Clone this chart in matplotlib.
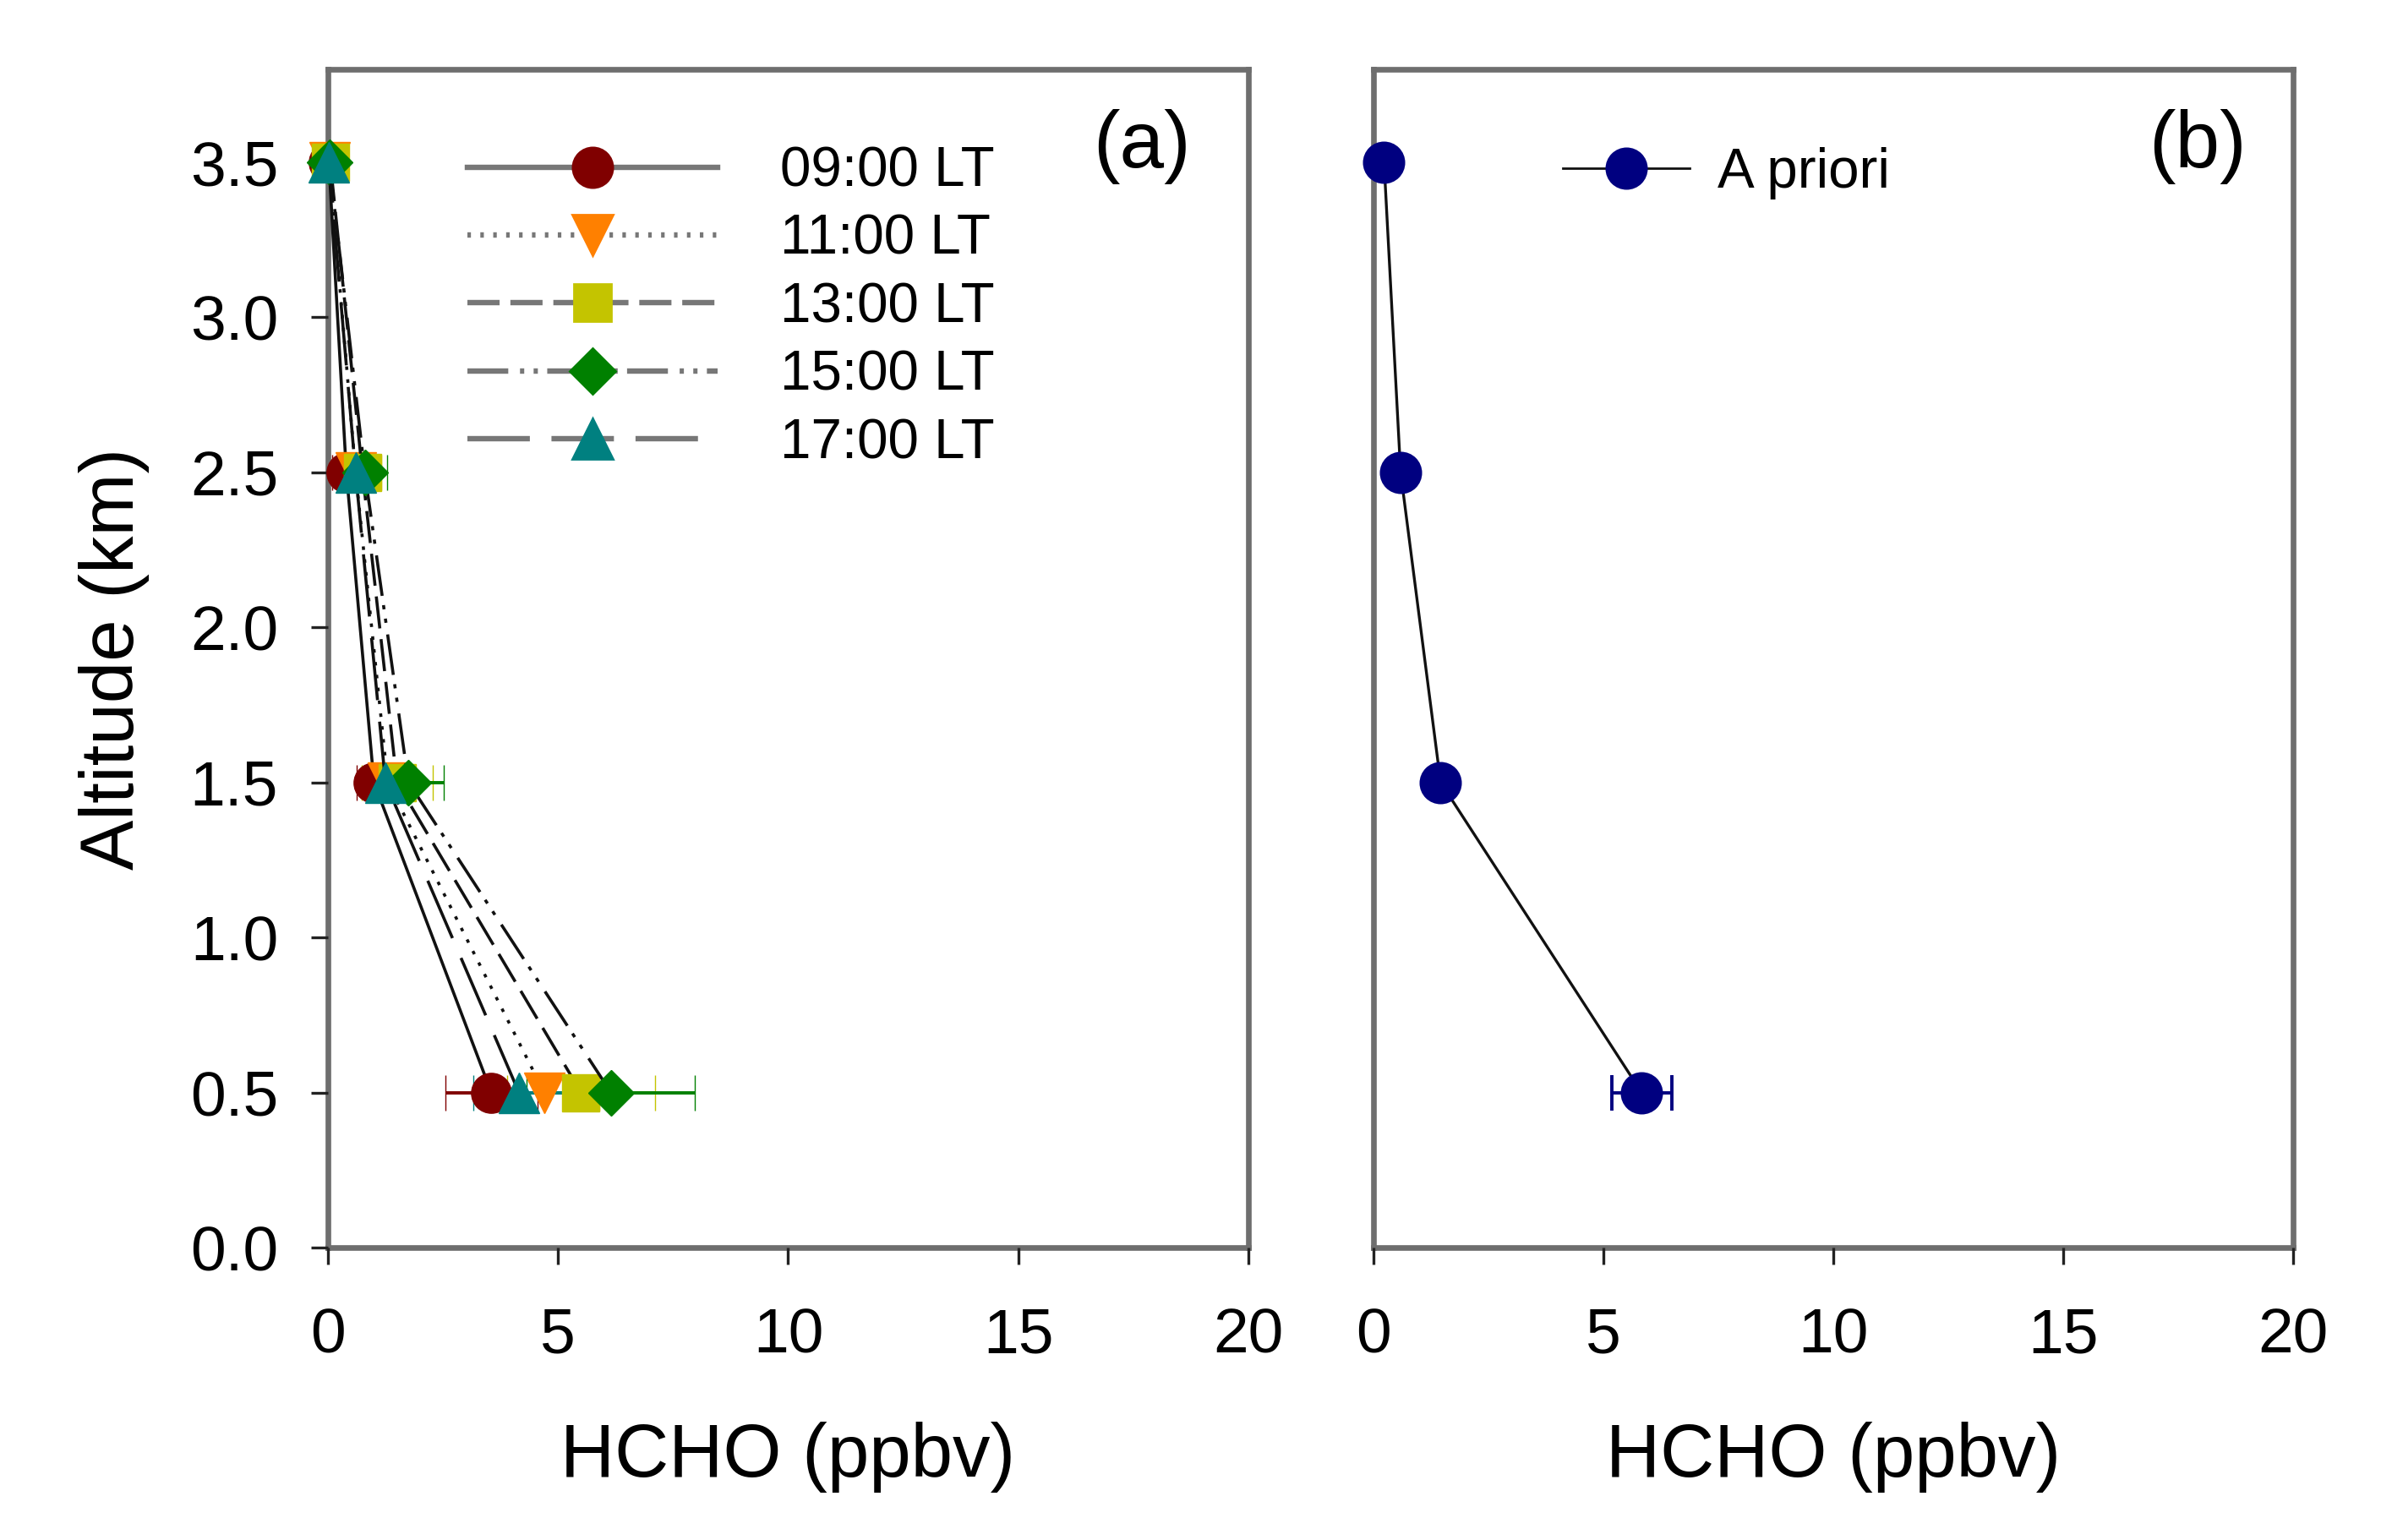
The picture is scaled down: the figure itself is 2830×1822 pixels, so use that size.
import matplotlib
matplotlib.use("Agg")
import matplotlib.pyplot as plt
from matplotlib.lines import Line2D

plt.rcParams['font.family'] = ['Liberation Sans', 'DejaVu Sans']
plt.rcParams['lines.scale_dashes'] = False

# ---------------- data ----------------
altitude = [0.5, 1.5, 2.5, 3.5]           # km
times = ["09:00 LT", "11:00 LT", "13:00 LT", "15:00 LT", "17:00 LT"]
hcho_09 = [3.55, 1.00, 0.40, 0.02]
err_09 = [1.00, 0.38, 0.30, 0.02]
hcho_11 = [4.70, 1.30, 0.60, 0.03]
err_11 = [1.20, 0.45, 0.30, 0.02]
hcho_13 = [5.50, 1.50, 0.75, 0.05]
err_13 = [1.60, 0.77, 0.40, 0.03]
hcho_15 = [6.15, 1.75, 0.80, 0.03]
err_15 = [1.83, 0.77, 0.48, 0.02]
hcho_17 = [4.15, 1.25, 0.60, 0.02]
err_17 = [1.00, 0.40, 0.30, 0.02]
apriori = [5.83, 1.46, 0.59, 0.23]
apriori_err = [0.65, 0.16, 0.07, 0.03]

xticks = [0, 5, 10, 15, 20]
yticks = [0.0, 0.5, 1.0, 1.5, 2.0, 2.5, 3.0, 3.5]

# ---------------- styles ----------------
series = [
    (hcho_09, err_09, '#800000', 'o', 17, '-'),
    (hcho_11, err_11, '#ff8000', 'v', 17, (0, (1.5, 4))),
    (hcho_13, err_13, '#c4c400', 's', 16, (0, (13.7, 4.6))),
    (hcho_15, err_15, '#008000', 'D', 14, (0, (17.4, 5, 1.8, 4, 1.8, 4))),
    (hcho_17, err_17, '#008080', '^', 17, (0, (26.6, 9.2))),
]

fig = plt.figure(figsize=(14.15, 9.11), dpi=200)
ax1 = fig.add_axes([0.1371, 0.1899, 0.3848, 0.7651])
ax2 = fig.add_axes([0.5742, 0.1899, 0.3845, 0.7651])

spine_col = '#6e6e6e'
for ax in (ax1, ax2):
    ax.set_xlim(0, 20)
    ax.set_ylim(0, 3.8)
    ax.set_xticks(xticks)
    ax.set_xticklabels([str(t) for t in xticks])
    for s in ax.spines.values():
        s.set_color(spine_col)
        s.set_linewidth(2.4)
        s.set_zorder(1)
    ax.tick_params(axis='x', direction='out', length=7.2, width=1.2,
                   color='#222222', labelsize=27, pad=18, top=False)
    ax.set_xlabel('HCHO (ppbv)', fontsize=32)
    ax.xaxis.set_label_coords(0.5, -0.148)

ax1.set_yticks(yticks)
ax1.set_yticklabels([f"{t:.1f}" for t in yticks])
ax1.tick_params(axis='y', direction='out', length=7.2, width=1.2,
                color='#222222', labelsize=27, pad=14, right=False)
ax1.set_ylabel('Altitude (km)', fontsize=32)
ax1.yaxis.set_label_coords(-0.194, 0.5)

ax2.set_yticks(yticks)
ax2.tick_params(axis='y', length=0, labelleft=False, right=False)


def unclip(container):
    for art in container.get_children():
        art.set_clip_on(False)


# ---------------- panel (a) ----------------
handles = []
for (vals, errs, col, mk, ms, ls), lab in zip(series, times):
    eb = ax1.errorbar(vals, altitude, xerr=errs, color='#111111', lw=1.3, ls=ls,
                      marker=mk, ms=ms, mfc=col, mec=col, mew=0.5,
                      ecolor=col, elinewidth=1.4, capsize=7.5, capthick=1.4)
    unclip(eb)
    handles.append(Line2D([], [], color='#777777', lw=2.3, ls=ls,
                          marker=mk, ms=ms, mfc=col, mec=col, label=lab))

ax1.legend(handles=handles, loc='upper left', bbox_to_anchor=(0.1515, 0.935),
           frameon=False, fontsize=23.6, borderpad=0, borderaxespad=0,
           handlelength=4.52, handletextpad=1.13, labelspacing=0.28,
           numpoints=1)
ax1.text(17.69, 3.55, '(a)', fontsize=34, ha='center', va='center')

# ---------------- panel (b) ----------------
eb = ax2.errorbar(apriori, altitude, xerr=apriori_err, color='#111111', lw=1.2,
                  marker='o', ms=17, mfc='#000080', mec='#000080',
                  ecolor='#000080', elinewidth=1.4, capsize=7.5, capthick=1.4)
unclip(eb)
h_ap = Line2D([], [], color='#111111', lw=1.0, marker='o', ms=17,
              mfc='#000080', mec='#000080', label='A priori')
ax2.legend(handles=[h_ap], loc='upper left', bbox_to_anchor=(0.2059, 0.934),
           frameon=False, fontsize=23.6, borderpad=0, borderaxespad=0,
           handlelength=2.29, handletextpad=0.5, numpoints=1)
ax2.text(17.92, 3.55, '(b)', fontsize=34, ha='center', va='center')

fig.savefig('out.png', dpi=200)
